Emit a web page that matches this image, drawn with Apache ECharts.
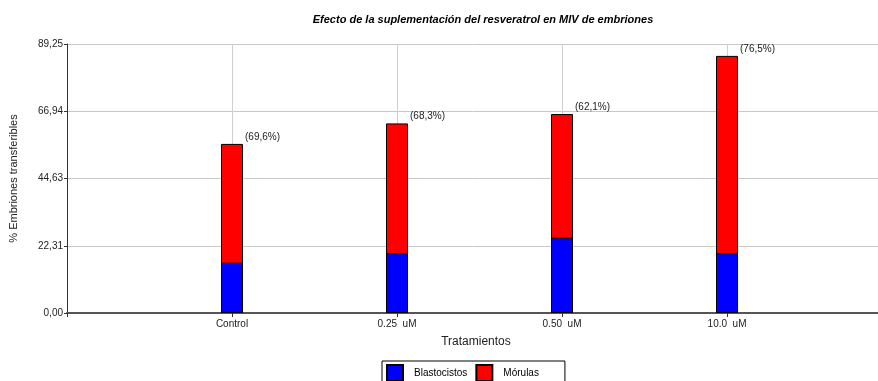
<!DOCTYPE html>
<html>
<head>
<meta charset="utf-8">
<script src="https://cdn.jsdelivr.net/npm/echarts@6/dist/echarts.min.js"></script>
<style>
html,body{margin:0;padding:0;background:#fff;}
#c{width:878px;height:381px;}
</style>
</head>
<body>
<div id="c"></div>
<script>
var categories = ['Control', '0.25  uM', '0.50  uM', '10.0  uM'];
var blastocistos = [16.7, 19.8, 25.0, 19.8];
var morulas = [39.4, 43.1, 41.0, 65.5];
var pctLabels = ['(69,6%)', '(68,3%)', '(62,1%)', '(76,5%)'];
var yMax = 89.25;
var yInterval = 22.3125;
var xMax = 4.915;

var font = 'Arial, "Liberation Sans", sans-serif';
// x position = category index + 1; the Mórulas bar sits on top of Blastocistos
var blastoData = blastocistos.map(function (v, i) { return [i + 1, v]; });
var totalData = morulas.map(function (v, i) { return [i + 1, v + blastocistos[i]]; });

var chart = echarts.init(document.getElementById('c'), null, {renderer: 'canvas'});
chart.setOption({
  animation: false,
  backgroundColor: '#fff',
  textStyle: {fontFamily: font},
  title: {
    text: 'Efecto de la suplementación del resveratrol en MIV de embriones',
    left: 478, top: 9, textAlign: 'center',
    textStyle: {fontFamily: font, fontSize: 11, fontWeight: 'bold', fontStyle: 'italic', color: '#000'}
  },
  grid: {left: 67, right: 0, top: 44, height: 269, containLabel: false},
  legend: {
    left: 382, top: 361,
    data: ['Blastocistos', 'Mórulas'],
    itemWidth: 16, itemHeight: 16, itemGap: 8,
    borderColor: '#000', borderWidth: 1,
    padding: [3, 26, 6, 4],
    icon: 'rect',
    textStyle: {fontFamily: font, fontSize: 10, color: '#000', padding: [0, 0, 0, 6]}
  },
  graphic: [{
    type: 'text', x: 476, y: 336,
    style: {text: 'Tratamientos', font: '12px Arial, "Liberation Sans", sans-serif', fill: '#222',
      align: 'center', verticalAlign: 'top'}
  }],
  xAxis: {
    type: 'value', min: 0, max: xMax, interval: 1,
    axisLine: {show: true, lineStyle: {color: '#555', width: 2}},
    axisTick: {show: true, length: 4, lineStyle: {color: '#333'}},
    axisLabel: {fontFamily: font, fontSize: 10, color: '#222', margin: 6, showMinLabel: true, showMaxLabel: false,
      formatter: function (v) {
        var i = Math.round(v);
        if (Math.abs(v - i) > 1e-6 || i < 1 || i > categories.length) return '';
        return categories[i - 1];
      }},
    splitLine: {show: true, lineStyle: {color: '#cfcfcf', width: 1}}
  },
  yAxis: {
    type: 'value', min: 0, max: yMax, interval: yInterval,
    name: '% Embriones transferibles', nameLocation: 'middle', nameGap: 48,
    nameTextStyle: {fontFamily: font, fontSize: 11, color: '#222'},
    axisLine: {show: true, lineStyle: {color: '#333', width: 1}},
    axisTick: {show: true, length: 3, lineStyle: {color: '#333'}},
    axisLabel: {fontFamily: font, fontSize: 10, color: '#222', margin: 4,
      formatter: function (v) { return v.toFixed(2).replace('.', ','); }},
    splitLine: {show: true, lineStyle: {color: '#c8c8c8', width: 1}}
  },
  series: [
    {
      name: 'Mórulas', type: 'bar', data: totalData, barWidth: 22, barGap: '-100%', z: 2,
      itemStyle: {color: '#ff0000', borderColor: '#000', borderWidth: 1},
      label: {
        show: true, position: [24, -7], align: 'left', verticalAlign: 'middle',
        fontFamily: font, fontSize: 10, color: '#222',
        formatter: function (p) { return pctLabels[p.dataIndex]; }
      }
    },
    {
      name: 'Blastocistos', type: 'bar', data: blastoData, barWidth: 22, barGap: '-100%', z: 3,
      itemStyle: {color: '#0000ff', borderColor: '#000', borderWidth: 1}
    }
  ]
});
</script>
</body>
</html>
